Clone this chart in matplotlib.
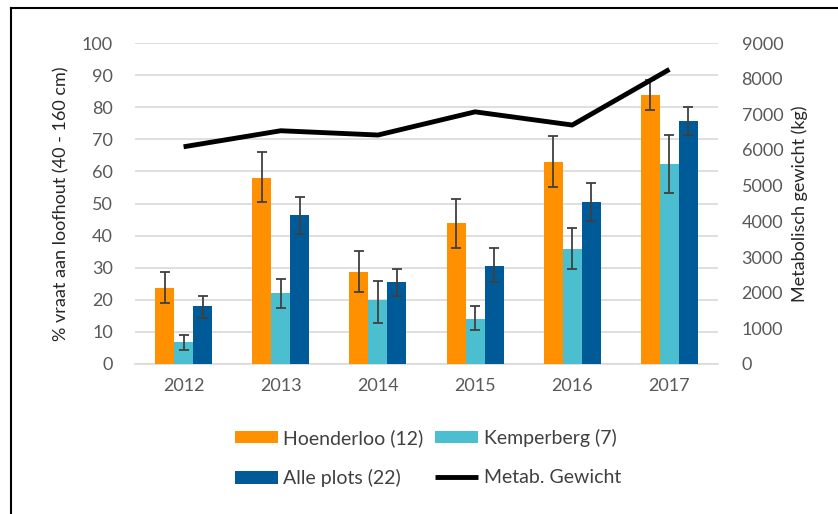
import numpy as np
import matplotlib.pyplot as plt
from matplotlib.lines import Line2D

plt.rcParams['font.family'] = ['Lato', 'DejaVu Sans']

# Data
years = ['2012', '2013', '2014', '2015', '2016', '2017']

hoenderloo = [23.7, 58.0, 28.8, 43.8, 63.0, 83.8]
hoenderloo_lo = [19.0, 50.5, 22.5, 36.0, 55.0, 79.0]
hoenderloo_hi = [28.8, 66.0, 35.3, 51.5, 71.0, 88.5]

kemperberg = [6.7, 22.0, 19.8, 14.0, 35.8, 62.3]
kemperberg_lo = [4.5, 17.5, 12.8, 10.5, 29.6, 53.3]
kemperberg_hi = [9.0, 26.5, 26.0, 18.0, 42.4, 71.3]

alle = [18.0, 46.5, 25.5, 30.6, 50.5, 75.7]
alle_lo = [14.3, 40.5, 21.3, 25.6, 44.5, 71.3]
alle_hi = [21.3, 52.0, 29.5, 36.1, 56.4, 80.2]

metab = [6090, 6540, 6420, 7070, 6700, 8260]

c_hoen = '#FF9100'
c_kemp = '#4BBFCF'
c_alle = '#005A98'
txt = '#595959'

fig = plt.figure(figsize=(8.38, 5.14), dpi=100)
ax = fig.add_axes([135 / 838, 1 - 364 / 514, 583 / 838, 321 / 514])
ax2 = ax.twinx()

x = np.arange(len(years))
w = 0.195


def errs(v, lo, hi):
    v = np.array(v)
    return [v - np.array(lo), np.array(hi) - v]


ek = dict(ecolor='#404040', elinewidth=1.3, capsize=3.5, capthick=1.3)
b1 = ax.bar(x - w, hoenderloo, w, color=c_hoen, yerr=errs(hoenderloo, hoenderloo_lo, hoenderloo_hi), error_kw=ek, zorder=3)
b2 = ax.bar(x, kemperberg, w, color=c_kemp, yerr=errs(kemperberg, kemperberg_lo, kemperberg_hi), error_kw=ek, zorder=3)
b3 = ax.bar(x + w, alle, w, color=c_alle, yerr=errs(alle, alle_lo, alle_hi), error_kw=ek, zorder=3)
l1, = ax2.plot(x, metab, color='black', lw=3.5, solid_capstyle='butt')

ax.set_xlim(-0.5, len(years) - 0.5)
ax.set_ylim(0, 100)
ax.set_yticks(np.arange(0, 101, 10))
ax2.set_ylim(0, 9000)
ax2.set_yticks(np.arange(0, 9001, 1000))
ax.set_xticks(x)
ax.set_xticklabels(years)

ax.yaxis.grid(True, color='#D9D9D9', lw=1.2, zorder=0)
ax.set_axisbelow(True)
for a in (ax, ax2):
    for s in a.spines.values():
        s.set_visible(False)
    a.tick_params(length=0, labelsize=13, colors=txt)
ax.spines['bottom'].set_visible(True)
ax.spines['bottom'].set_color('#D9D9D9')
ax.spines['bottom'].set_linewidth(1.2)
ax.tick_params(axis='y', pad=16)
ax.tick_params(axis='x', pad=10)
ax2.tick_params(axis='y', pad=17)

ax.set_ylabel('% vraat aan loofhout (40 - 160 cm)', fontsize=13, color='#262626', labelpad=9)
ax2.set_ylabel('Metabolisch gewicht (kg)', fontsize=13, color='#262626', labelpad=6)

fig.legend([b1, b3, b2, l1],
           ['Hoenderloo (12)', 'Alle plots (22)', 'Kemperberg (7)', 'Metab. Gewicht'],
           ncol=2, loc='center', bbox_to_anchor=(428 / 838, 1 - 458 / 514),
           frameon=False, fontsize=14, labelcolor='#404040',
           handlelength=2.2, handleheight=0.6, handletextpad=0.3,
           columnspacing=0.6, labelspacing=1.15)

# outer frame lines (top and left)
fig.add_artist(Line2D([11 / 838, 11 / 838], [0, 1 - 8 / 514], color='black', lw=1.5, transform=fig.transFigure))
fig.add_artist(Line2D([11 / 838, 1], [1 - 8 / 514, 1 - 8 / 514], color='black', lw=1.5, transform=fig.transFigure))

fig.savefig('out.png', dpi=100)
